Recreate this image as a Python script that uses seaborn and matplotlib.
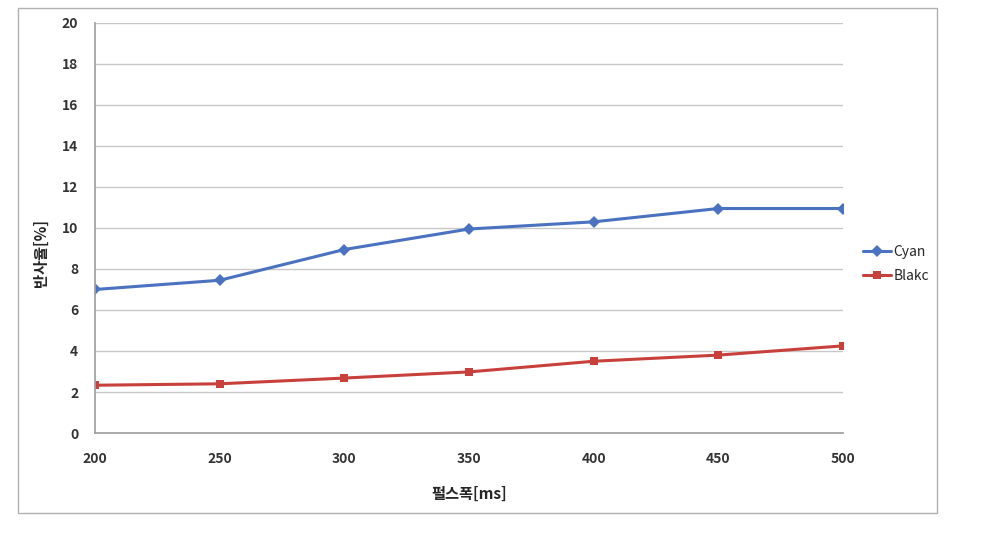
import matplotlib
matplotlib.use("Agg")
import matplotlib.pyplot as plt
import seaborn as sns
import pandas as pd
from matplotlib.patches import Rectangle

pulse_width = [200, 250, 300, 350, 400, 450, 500]
cyan = [7.0, 7.45, 8.95, 9.95, 10.3, 10.95, 10.95]
blakc = [2.33, 2.4, 2.68, 2.98, 3.5, 3.8, 4.25]
series_names = ["Cyan", "Blakc"]
y_ticks = list(range(0, 21, 2))

df = pd.DataFrame({
    "x": pulse_width * 2,
    "y": cyan + blakc,
    "series": [series_names[0]] * len(pulse_width) + [series_names[1]] * len(pulse_width),
})

sns.set_theme(style="white")
plt.rcParams['font.family'] = ['Noto Sans CJK KR', 'DejaVu Sans']

fig = plt.figure(figsize=(9.9, 5.47), dpi=100)
ax = fig.add_axes([0.096, 0.2084, 0.7555, 0.7496])

palette = {"Cyan": "#4A72C0", "Blakc": "#C8403C"}
markers = {"Cyan": "D", "Blakc": "s"}
sns.lineplot(data=df, x="x", y="y", hue="series", style="series", palette=palette,
             markers=markers, dashes=False, markersize=6, linewidth=2.2, ax=ax,
             markeredgewidth=0)

ax.set_xlim(200, 500)
ax.set_ylim(0, 20)
ax.set_yticks(y_ticks)
ax.set_xticks(pulse_width)
ax.yaxis.grid(True, color="#c8c8c8", linewidth=1)
ax.set_axisbelow(True)
for s in ["top", "right"]:
    ax.spines[s].set_visible(False)
ax.spines["left"].set_color("#a0a0a0")
ax.spines["bottom"].set_color("#a0a0a0")
ax.tick_params(axis="x", length=0, pad=14, labelsize=10)
ax.tick_params(axis="y", length=0, pad=12, labelsize=10)
for lab in ax.get_xticklabels() + ax.get_yticklabels():
    lab.set_fontweight("bold")
    lab.set_color("#333333")

ax.set_xlabel("펄스폭[ms]", fontsize=11, fontweight="bold", labelpad=14)
ax.set_ylabel("반사율[%]", fontsize=11, fontweight="bold", labelpad=6)
ax.yaxis.set_label_coords(-0.062, 0.44)

leg = ax.legend(loc="center left", bbox_to_anchor=(1.01, 0.412), frameon=False,
                fontsize=10, handlelength=2.0, handletextpad=0.2, labelspacing=0.7)

fig.patches.append(Rectangle((18 / 990, 1 - 513 / 547), (937 - 18) / 990, (513 - 8) / 547,
                             transform=fig.transFigure, fill=False, edgecolor="#b0b0b0",
                             linewidth=1))

fig.savefig("out.png", dpi=100)
